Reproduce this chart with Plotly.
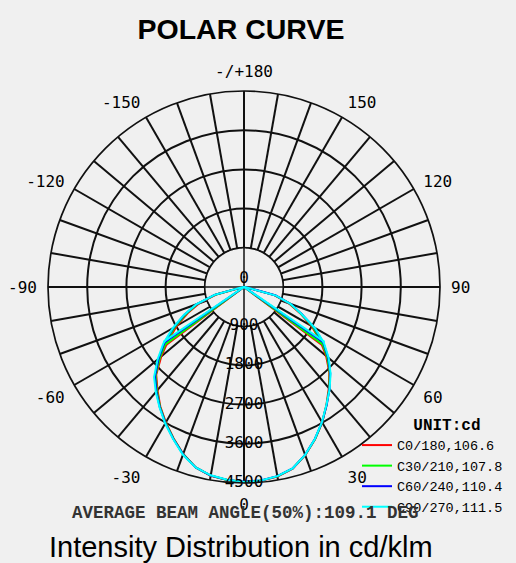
import numpy as np
import plotly.graph_objects as go

# ---------------- data ----------------
gamma = [0, 5, 10, 15, 20, 25, 30, 35, 40, 45, 50, 55, 60, 65, 70, 75, 80, 85, 90]

plane_names = ["C0/180", "C30/210", "C60/240", "C90/270"]
beam_angles = [106.6, 107.8, 110.4, 111.5]
plane_colors = ["#ff0000", "#00ff00", "#0000ff", "#00ffff"]

# intensity (cd/klm) on the first half-plane (C0, C30, C60, C90)  -> right side
c0 =   [4480, 4465, 4420, 4320, 4110, 3860, 3590, 3300, 3030, 2770, 2460, 2130, 1790, 1420, 1100, 720, 70, 0, 0]
c30 =  [4475, 4462, 4415, 4315, 4105, 3855, 3590, 3305, 3045, 2785, 2490, 2170, 1820, 1440, 1120, 740, 80, 0, 0]
c60 =  [4470, 4458, 4410, 4310, 4100, 3850, 3585, 3310, 3055, 2800, 2520, 2220, 1860, 1460, 1140, 755, 90, 0, 0]
c90 =  [4475, 4460, 4410, 4310, 4100, 3850, 3580, 3300, 3060, 2810, 2540, 2240, 1880, 1450, 1140, 760, 80, 0, 0]
# intensity on the opposite half-plane (C180, C210, C240, C270) -> left side
c180 = [4480, 4450, 4400, 4290, 4080, 3830, 3590, 3350, 3090, 2850, 2480, 2110, 1780, 1430, 1100, 640, 60, 0, 0]
c210 = [4475, 4448, 4398, 4290, 4085, 3838, 3600, 3360, 3110, 2870, 2520, 2170, 1830, 1470, 1130, 680, 70, 0, 0]
c240 = [4470, 4445, 4395, 4290, 4090, 3845, 3610, 3370, 3130, 2890, 2560, 2230, 1870, 1510, 1160, 700, 80, 0, 0]
c270 = [4475, 4440, 4390, 4290, 4100, 3850, 3620, 3380, 3150, 2920, 2590, 2260, 1890, 1530, 1170, 700, 80, 0, 0]

right_sides = [c0, c30, c60, c90]
left_sides = [c180, c210, c240, c270]

ring_values = [0, 900, 1800, 2700, 3600, 4500]
angle_ticks = [0, 30, 60, 90, 120, 150, 180, 210, 240, 270, 300, 330]
angle_labels = ["0", "30", "60", "90", "120", "150", "-/+180", "-150", "-120", "-90", "-60", "-30"]
grid_step = 10

# ---------------- styling ----------------
BG = "#f0f0f0"
GRID = "#111111"
W, H = 516, 563
cx, cy, R = 244, 287, 196

fig = go.Figure()

# mask inside first ring (radial spokes start at first ring) + first ring outline
circ = np.linspace(0, 360, 181)
fig.add_trace(go.Scatterpolar(
    theta=circ, r=[ring_values[1]] * len(circ), mode="lines",
    fill="toself", fillcolor=BG, line=dict(color=GRID, width=1.5),
    hoverinfo="skip", showlegend=False))

# main cross through centre
fig.add_trace(go.Scatterpolar(
    theta=[0, 180, None, 90, 270],
    r=[ring_values[-1], ring_values[-1], None, ring_values[-1], ring_values[-1]],
    mode="lines", line=dict(color=GRID, width=1.5),
    hoverinfo="skip", showlegend=False))

# curves
for name, beam, col, rs, ls in zip(plane_names, beam_angles, plane_colors, right_sides, left_sides):
    theta = list(gamma[::-1]) + [-g for g in gamma[1:]]
    r = list(rs[::-1]) + list(ls[1:])
    half = beam / 2.0
    half_int = max(max(rs), max(ls)) / 2.0
    theta += [None, -half, 0, half]
    r += [None, half_int, 0, half_int]
    fig.add_trace(go.Scatterpolar(
        theta=theta, r=r, mode="lines", connectgaps=False,
        line=dict(color=col, width=2),
        name=f"{name},{beam}", hoverinfo="skip"))

# radial value labels along the 0 direction
fig.add_trace(go.Scatterpolar(
    theta=[0] * len(ring_values), r=ring_values,
    text=[str(v) for v in ring_values], mode="text",
    textposition=["top center"] + ["middle center"] * (len(ring_values) - 1),
    textfont=dict(family="DejaVu Sans Mono", size=16, color="#000000"),
    hoverinfo="skip", showlegend=False))

grid_vals = list(range(0, 360, grid_step))
grid_text = [angle_labels[angle_ticks.index(v)] if v in angle_ticks else "" for v in grid_vals]

fig.update_layout(
    width=W, height=H,
    paper_bgcolor=BG, plot_bgcolor=BG,
    margin=dict(l=0, r=0, t=0, b=0, autoexpand=False),
    title=dict(text="<b>POLAR CURVE</b>", x=241 / W, y=1 - 29 / H,
               xanchor="center", yanchor="middle",
               font=dict(family="Liberation Sans, Arial", size=28.5, color="#000000")),
    polar=dict(
        domain=dict(x=[(cx - R) / W, (cx + R) / W], y=[1 - (cy + R) / H, 1 - (cy - R) / H]),
        bgcolor=BG,
        radialaxis=dict(range=[0, ring_values[-1]], tickvals=ring_values[1:],
                        showticklabels=False, ticks="", showline=False,
                        gridcolor=GRID, gridwidth=1.5),
        angularaxis=dict(rotation=-90, direction="counterclockwise",
                         tickmode="array", tickvals=grid_vals, ticktext=grid_text,
                         ticks="outside", ticklen=7, tickcolor="rgba(0,0,0,0)",
                         showline=True, linecolor=GRID, linewidth=1.7,
                         gridcolor=GRID, gridwidth=1.5,
                         tickfont=dict(family="DejaVu Sans Mono", size=16, color="#000000")),
    ),
    legend=dict(x=357 / W, y=1 - 409 / H, xanchor="left", yanchor="top",
                bgcolor="rgba(0,0,0,0)",
                font=dict(family="Liberation Mono", size=13.5, color="#000000"),
                title=dict(text="&nbsp;&nbsp;&nbsp;<b>UNIT:cd</b>", side="top center",
                           font=dict(family="Liberation Mono", size=16, color="#000000"))),
    annotations=[
        dict(text=f"<b>AVERAGE BEAM ANGLE(50%):{np.mean(beam_angles):.1f} DEG</b>",
             x=245 / W, y=1 - 513 / H, xref="paper", yref="paper",
             xanchor="center", yanchor="middle", showarrow=False,
             font=dict(family="Liberation Mono", size=17.5, color="#333333")),
        dict(text="Intensity Distribution in cd/klm",
             x=241 / W, y=1 - 547 / H, xref="paper", yref="paper",
             xanchor="center", yanchor="middle", showarrow=False,
             font=dict(family="Liberation Sans, Arial", size=29, color="#000000")),
    ],
)

fig.write_html(
    "out.html",
    config={"displayModeBar": False},
    post_script="document.body.style.margin='0';document.body.style.padding='0';"
                "document.body.style.overflow='hidden';"
                "document.documentElement.style.overflow='hidden';",
)
